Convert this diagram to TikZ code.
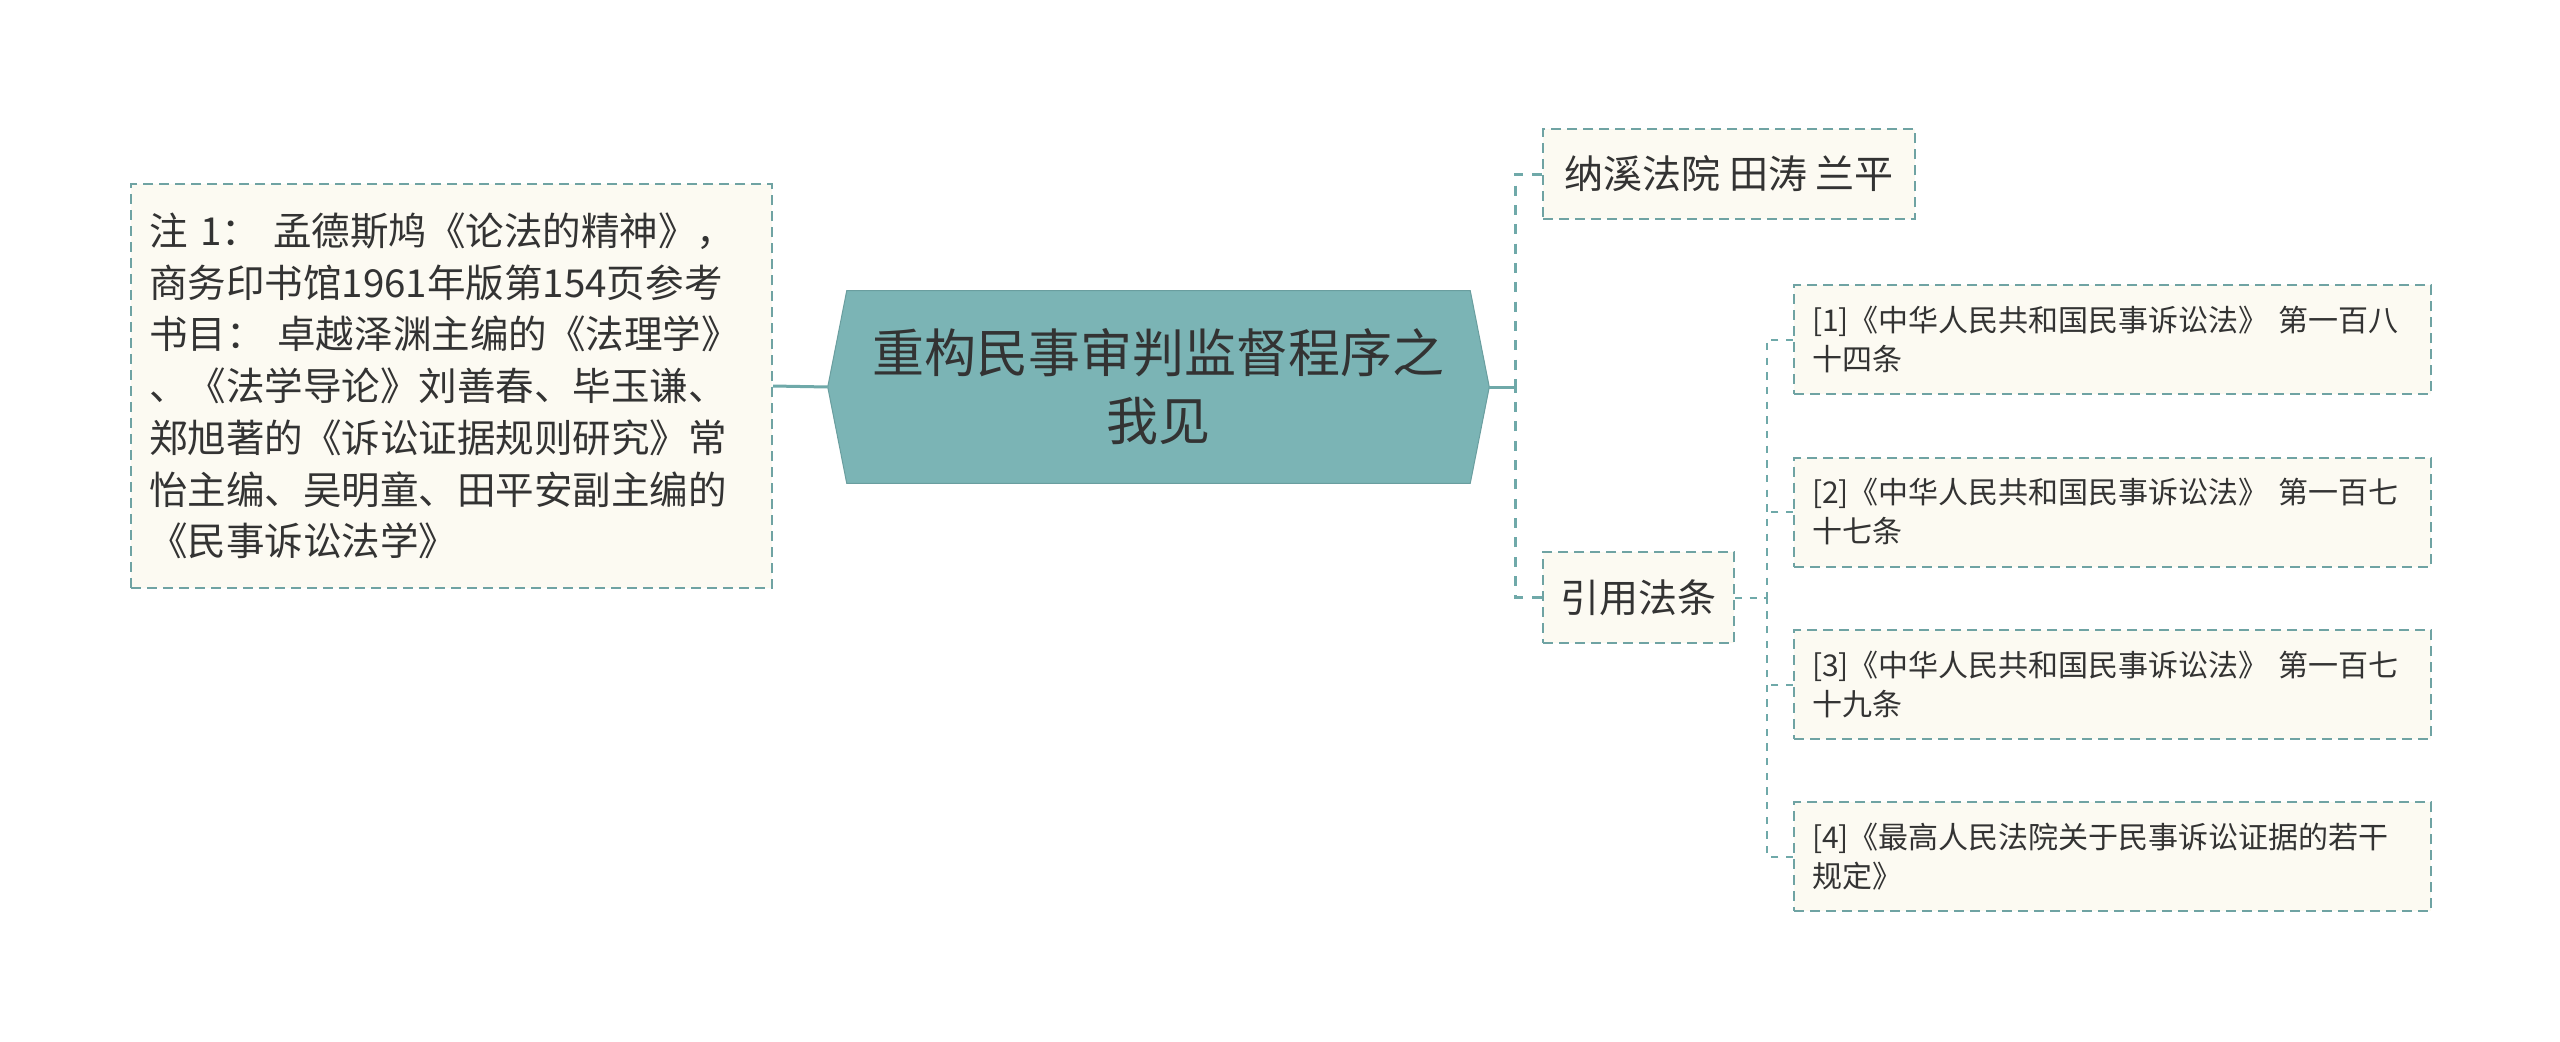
\documentclass[tikz,border=0pt]{standalone}
\usepackage{fontspec}
\setmainfont{Noto Sans CJK SC}
\usetikzlibrary{calc}
\definecolor{boxline}{HTML}{6FA3A3}
\definecolor{boxfill}{HTML}{FCFAF2}
\definecolor{rootfill}{HTML}{7BB4B5}
\definecolor{rootline}{HTML}{6A9E9F}
\definecolor{conn}{HTML}{6FA9A9}
\definecolor{txt}{HTML}{333333}
\pgfdeclarelayer{bg}
\pgfsetlayers{bg,main}
\begin{document}
\begin{tikzpicture}[x=0.75pt,y=-0.75pt,
  box/.style={draw=boxline, fill=boxfill, dash pattern=on 7.5pt off 4.5pt, line width=1.5pt, inner sep=0pt, text=txt},
  lvlone/.style={box, font=\fontsize{29.25pt}{36pt}\selectfont},
  child/.style={box, minimum width={637*0.75pt}, minimum height={109*0.75pt}, text width={601*0.75pt}, align=left, font=\fontsize{22.5pt}{29.25pt}\selectfont},
  solidconn/.style={draw=conn, line width=2.25pt},
  trunk/.style={draw=conn, line width=2.25pt, dash pattern=on 7.5pt off 7pt},
  sub/.style={draw=conn, line width=1.5pt, dash pattern=on 5.5pt off 5.5pt}]
\useasboundingbox (0,0) rectangle (2560,1042);

% left note
\node[box, minimum width={641*0.75pt}, minimum height={404*0.75pt}, text width={605*0.75pt}, align=left, font=\fontsize{28.9pt}{38.8pt}\selectfont] (note) at (451.5,386)
{注 1： 孟德斯鸠《论法的精神》，\\商务印书馆1961年版第154页参考\\书目： 卓越泽渊主编的《法理学》\\、《法学导论》刘善春、毕玉谦、\\郑旭著的《诉讼证据规则研究》常\\怡主编、吴明童、田平安副主编的\\《民事诉讼法学》};

% root
\node[minimum width={661*0.75pt}, minimum height={192*0.75pt}, inner sep=0pt, align=center, text=txt, font=\fontsize{39pt}{51pt}\selectfont] (root) at (1158.5,387) {重构民事审判监督程序之\\我见};
\begin{pgfonlayer}{bg}
\fill[white] (0,0) rectangle (2560,1042);
\filldraw[fill=rootfill, draw=rootline, line width=0.75pt]
  (root.west) -- ($(root.north west)+(19,0)$) -- ($(root.north east)+(-19,0)$) -- (root.east)
  -- ($(root.south east)+(-19,0)$) -- ($(root.south west)+(19,0)$) -- cycle;
\end{pgfonlayer}

% level one right
\node[lvlone, minimum width={372*0.75pt}, minimum height={90*0.75pt}] (b1) at (1729,174) {纳溪法院 田涛 兰平};
\node[lvlone, minimum width={191*0.75pt}, minimum height={91*0.75pt}] (yy) at (1638.5,597.5) {引用法条};

% children
\node[child] (c1) at (2112.5,339.5) {[1]《中华人民共和国民事诉讼法》 第一百八\\十四条};
\node[child] (c2) at (2112.5,512) {[2]《中华人民共和国民事诉讼法》 第一百七\\十七条};
\node[child] (c3) at (2112.5,684.5) {[3]《中华人民共和国民事诉讼法》 第一百七\\十九条};
\node[child] (c4) at (2112.5,856.5) {[4]《最高人民法院关于民事诉讼证据的若干\\规定》};

% connectors
\coordinate (j1) at (1515,387);
\coordinate (j2) at (1767,597.5);
\draw[solidconn] (note.east) -- (root.west);
\draw[solidconn] (root.east) -- (j1);
\draw[trunk] (b1.west) -| (j1);
\draw[trunk] (yy.west) -| (j1);
\draw[sub] (yy.east) -- (j2);
\draw[sub] (c1.west) -| (j2);
\draw[sub] (c2.west) -- (c2.west -| j2);
\draw[sub] (c3.west) -- (c3.west -| j2);
\draw[sub] (c4.west) -| (j2);
\end{tikzpicture}
\end{document}
